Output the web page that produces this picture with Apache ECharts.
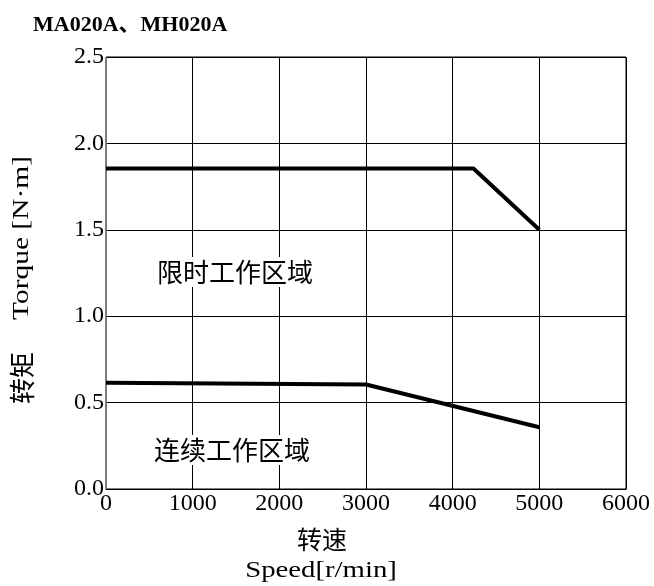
<!DOCTYPE html>
<html><head><meta charset="utf-8">
<script src="https://cdn.jsdelivr.net/npm/echarts@6/dist/echarts.min.js"></script>
<style>html,body{margin:0;padding:0;background:#fff}#c{width:654px;height:586px}</style>
</head><body><div id="c"></div>
<script>
const speedTicks = [0, 1000, 2000, 3000, 4000, 5000, 6000];
const torqueTicks = [0.0, 0.5, 1.0, 1.5, 2.0, 2.5];
const peakSpeed = [0, 4240, 5000];
const peakTorque = [1.855, 1.855, 1.5];
const contSpeed = [0, 3000, 5000];
const contTorque = [0.615, 0.605, 0.357];
const titleText = 'MA020A、MH020A';
const xNameCn = '转速';
const xNameEn = 'Speed[r/min]';
const yNameCn = '转矩';
const yNameEn = 'Torque [N·m]';
const peakLabel = '限时工作区域';
const contLabel = '连续工作区域';

const F = "'Liberation Serif', 'Noto Sans CJK SC', serif";
const chart = echarts.init(document.getElementById('c'));
chart.setOption({
  backgroundColor: '#fff',
  animation: false,
  grid: { left: 106, right: 28, top: 57, bottom: 97, show: true, borderColor: '#000', borderWidth: 1 },
  xAxis: {
    type: 'value', min: speedTicks[0], max: speedTicks[speedTicks.length - 1], interval: 1000,
    axisLine: { lineStyle: { color: '#000', width: 1 } },
    axisTick: { show: false },
    splitLine: { lineStyle: { color: '#000', width: 1 } },
    axisLabel: { color: '#000', fontFamily: F, fontSize: 24, margin: 3, formatter: v => String(v) }
  },
  yAxis: {
    type: 'value', min: torqueTicks[0], max: torqueTicks[torqueTicks.length - 1], interval: 0.5,
    axisLine: { show: true, lineStyle: { color: '#777', width: 1 } },
    axisTick: { show: false },
    splitLine: { lineStyle: { color: '#000', width: 1 } },
    axisLabel: { color: '#000', fontFamily: F, fontSize: 24, margin: 2, formatter: v => v.toFixed(1) }
  },
  series: [
    { type: 'line', data: peakSpeed.map((s, i) => [s, peakTorque[i]]), symbol: 'none',
      lineStyle: { color: '#000', width: 4 }, z: 5 },
    { type: 'line', data: contSpeed.map((s, i) => [s, contTorque[i]]), symbol: 'none',
      lineStyle: { color: '#000', width: 4 }, z: 5 }
  ],
  graphic: [
    { type: 'text', x: 33, y: 25, style: { text: titleText, font: "bold 22px 'Liberation Serif', 'Noto Sans CJK SC'", fill: '#000', verticalAlign: 'middle' } },
    { type: 'text', x: 322, y: 539, style: { text: xNameCn, font: "25px 'Noto Sans CJK SC'", fill: '#000', align: 'center', verticalAlign: 'middle' } },
    { type: 'text', x: 321, y: 571, scaleX: 1.25, style: { text: xNameEn, font: "23px 'Liberation Serif'", fill: '#000', align: 'center', verticalAlign: 'middle' } },
    { type: 'text', x: 22, y: 378, rotation: Math.PI / 2, style: { text: yNameCn, font: "26px 'Noto Sans CJK SC'", fill: '#000', align: 'center', verticalAlign: 'middle' } },
    { type: 'text', x: 22, y: 238, rotation: Math.PI / 2, scaleX: 1.28, style: { text: yNameEn, font: "23px 'Liberation Serif'", fill: '#000', align: 'center', verticalAlign: 'middle' } },
    { type: 'text', x: 235, y: 272, z: 10, style: { text: peakLabel, font: "26px 'Noto Sans CJK SC'", fill: '#000', align: 'center', verticalAlign: 'middle', backgroundColor: '#fff', padding: [2, 2] } },
    { type: 'text', x: 232, y: 450, z: 10, style: { text: contLabel, font: "26px 'Noto Sans CJK SC'", fill: '#000', align: 'center', verticalAlign: 'middle', backgroundColor: '#fff', padding: [2, 2] } }
  ]
});
</script></body></html>
